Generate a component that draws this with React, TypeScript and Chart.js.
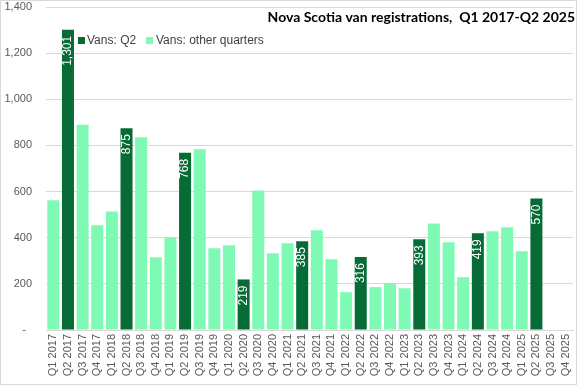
import React, { useEffect, useRef } from "react";
import { Chart, registerables } from "chart.js";

Chart.register(...registerables);

const categories = [
  "Q1 2017", "Q2 2017", "Q3 2017", "Q4 2017",
  "Q1 2018", "Q2 2018", "Q3 2018", "Q4 2018",
  "Q1 2019", "Q2 2019", "Q3 2019", "Q4 2019",
  "Q1 2020", "Q2 2020", "Q3 2020", "Q4 2020",
  "Q1 2021", "Q2 2021", "Q3 2021", "Q4 2021",
  "Q1 2022", "Q2 2022", "Q3 2022", "Q4 2022",
  "Q1 2023", "Q2 2023", "Q3 2023", "Q4 2023",
  "Q1 2024", "Q2 2024", "Q3 2024", "Q4 2024",
  "Q1 2025", "Q2 2025", "Q3 2025", "Q4 2025",
];

const q2Values: (number | null)[] = [
  null, 1301, null, null,
  null, 875, null, null,
  null, 768, null, null,
  null, 219, null, null,
  null, 385, null, null,
  null, 316, null, null,
  null, 393, null, null,
  null, 419, null, null,
  null, 570, null, null,
];

const otherValues: (number | null)[] = [
  562, null, 890, 454,
  514, null, 835, 315,
  402, null, 783, 354,
  367, null, 605, 333,
  376, null, 432, 307,
  164, null, 186, 203,
  181, null, 462, 380,
  229, null, 428, 445,
  341, null, null, null,
];

const yTicks = [0, 200, 400, 600, 800, 1000, 1200, 1400];

const titleText = "Nova Scotia van registrations,  Q1 2017-Q2 2025";
const legendLabels = ["Vans: Q2", "Vans: other quarters"];

const DARK = "#066b35";
const LIGHT = "#7ffab5";
const ARIAL = "'Liberation Sans', Arial, sans-serif";

const overlayPlugin = {
  id: "overlay",
  afterDatasetsDraw(chart: any) {
    const ctx = chart.ctx;
    const meta = chart.getDatasetMeta(0);
    ctx.save();
    ctx.fillStyle = "#ffffff";
    ctx.font = "12px " + ARIAL;
    meta.data.forEach((bar: any, i: number) => {
      const v = q2Values[i];
      if (v == null) return;
      ctx.save();
      ctx.translate(bar.x, bar.y + 6);
      ctx.rotate(-Math.PI / 2);
      ctx.textAlign = "right";
      ctx.textBaseline = "middle";
      ctx.fillText(v.toLocaleString("en-US"), 0, 0);
      ctx.restore();
    });
    ctx.restore();
  },
  afterDraw(chart: any) {
    const ctx = chart.ctx;
    ctx.save();
    ctx.fillStyle = "#000000";
    ctx.font = "bold 14px Lato, 'Liberation Sans', sans-serif";
    ctx.textAlign = "right";
    ctx.textBaseline = "middle";
    ctx.fillText(titleText, 574, 16);

    ctx.font = "12px " + ARIAL;
    ctx.textAlign = "left";
    ctx.fillStyle = DARK;
    ctx.fillRect(77, 36, 7, 7);
    ctx.fillStyle = "#404040";
    ctx.fillText(legendLabels[0], 86, 40);
    ctx.fillStyle = LIGHT;
    ctx.fillRect(145, 36, 7, 7);
    ctx.fillStyle = "#404040";
    ctx.fillText(legendLabels[1], 155, 40);
    ctx.restore();
  },
};

export default function App() {
  const canvasRef = useRef<HTMLCanvasElement | null>(null);

  useEffect(() => {
    document.body.style.margin = "0";
    const canvas = canvasRef.current;
    if (!canvas) return;
    const chart = new Chart(canvas, {
      type: "bar",
      data: {
        labels: categories,
        datasets: [
          {
            label: legendLabels[0],
            data: q2Values,
            backgroundColor: DARK,
            barPercentage: 0.82,
            categoryPercentage: 1,
          },
          {
            label: legendLabels[1],
            data: otherValues,
            backgroundColor: LIGHT,
            barPercentage: 0.82,
            categoryPercentage: 1,
          },
        ],
      },
      options: {
        animation: false,
        responsive: false,
        maintainAspectRatio: false,
        layout: { padding: { top: 6, right: 3, bottom: 2, left: 0 } },
        plugins: {
          legend: { display: false },
          title: { display: false },
          tooltip: { enabled: false },
        },
        scales: {
          x: {
            stacked: true,
            grid: { display: false, drawTicks: false },
            border: { display: true, color: "#d9d9d9" },
            ticks: {
              minRotation: 90,
              maxRotation: 90,
              autoSkip: false,
              padding: 4,
              color: "#595959",
              font: { family: ARIAL, size: 11 },
            },
            afterFit(scale: any) {
              scale.height = 52;
              scale.paddingLeft = 0;
              scale.paddingRight = 0;
            },
          },
          y: {
            stacked: true,
            min: 0,
            max: 1400,
            afterBuildTicks(scale: any) {
              scale.ticks = yTicks.map((v) => ({ value: v }));
            },
            grid: { color: "#d9d9d9", drawTicks: false },
            border: { display: false },
            ticks: {
              padding: 14,
              color: "#595959",
              font: { family: ARIAL, size: 11 },
              callback: (v: any) => (v === 0 ? "-  " : Number(v).toLocaleString("en-US")),
            },
            afterFit(scale: any) {
              scale.width = 45;
              scale.paddingTop = 0;
              scale.paddingBottom = 0;
            },
          },
        },
      },
      plugins: [overlayPlugin],
    });
    return () => chart.destroy();
  }, []);

  return (
    <div
      style={{
        position: "absolute",
        left: 0,
        top: 0,
        width: 577,
        height: 385,
        boxSizing: "border-box",
        border: "1px solid #d9d9d9",
        background: "#fff",
      }}
    >
      <canvas ref={canvasRef} width={575} height={383} style={{ display: "block" }} />
    </div>
  );
}
